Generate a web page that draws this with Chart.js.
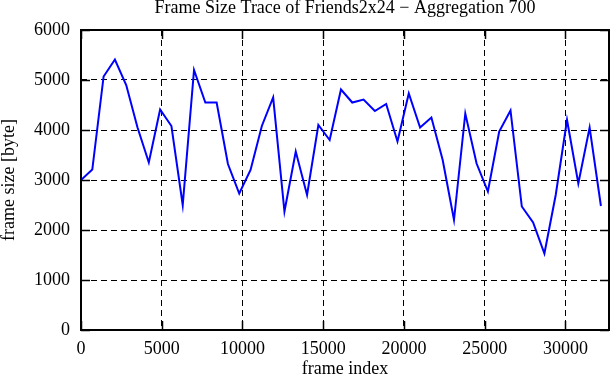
<!DOCTYPE html>
<html>
<head>
<meta charset="utf-8">
<script src="https://cdn.jsdelivr.net/npm/chart.js@4/dist/chart.umd.min.js"></script>
<style>
  body { margin: 0; background: #fff; }
  #wrap { width: 611px; height: 380px; }
</style>
</head>
<body>
<div id="wrap"><canvas id="myChart"></canvas></div>
<script>
// frame index (every 700 frames) and aggregated frame size in byte
const frameIndex = [0, 700, 1400, 2100, 2800, 3500, 4200, 4900, 5600, 6300,
    7000, 7700, 8400, 9100, 9800, 10500, 11200, 11900, 12600, 13300,
    14000, 14700, 15400, 16100, 16800, 17500, 18200, 18900, 19600, 20300,
    21000, 21700, 22400, 23100, 23800, 24500, 25200, 25900, 26600, 27300,
    28000, 28700, 29400, 30100, 30800, 31500, 32200];
const frameSize = [3000, 3210, 5070, 5410, 4900, 4050, 3350, 4410, 4080, 2500,
    5200, 4550, 4550, 3320, 2730, 3200, 4080, 4650, 2370, 3570,
    2700, 4100, 3800, 4810, 4550, 4610, 4380, 4520, 3770, 4730,
    4050, 4250, 3400, 2200, 4330, 3330, 2770, 3970, 4390, 2470,
    2150, 1530, 2700, 4200, 2930, 4050, 2480];
const xTicks = [0, 5000, 10000, 15000, 20000, 25000, 30000];
const yTicks = [0, 1000, 2000, 3000, 4000, 5000, 6000];

const fontFamily = "'Liberation Serif', 'Times New Roman', serif";

// gnuplot style frame: solid border + inward ticks on all four sides
const framePlugin = {
    id: 'frame',
    afterDraw(chart) {
        const ctx = chart.ctx;
        const a = chart.chartArea;
        const xs = chart.scales.x, ys = chart.scales.y;
        ctx.save();
        ctx.strokeStyle = '#000';
        ctx.lineWidth = 1.5;
        ctx.setLineDash([]);
        ctx.beginPath();
        xTicks.forEach(v => {
            const px = Math.round(xs.getPixelForValue(v)) + 0.5;
            ctx.moveTo(px, a.bottom); ctx.lineTo(px, a.bottom - 9);
            ctx.moveTo(px, a.top); ctx.lineTo(px, a.top + 9);
        });
        yTicks.forEach(v => {
            const py = Math.round(ys.getPixelForValue(v)) + 0.5;
            ctx.moveTo(a.left, py); ctx.lineTo(a.left + 9, py);
            ctx.moveTo(a.right, py); ctx.lineTo(a.right - 9, py);
        });
        ctx.stroke();
        ctx.lineWidth = 2;
        ctx.strokeRect(a.left, a.top, a.right - a.left, a.bottom - a.top);
        ctx.restore();
    }
};

let data = {
    datasets: [{
        label: 'frame size',
        data: frameIndex.map((x, i) => ({ x: x, y: frameSize[i] })),
        borderColor: '#0000ff',
        borderWidth: 2,
        pointRadius: 0,
        tension: 0,
        fill: false
    }]
};

let options = {
    responsive: true,
    maintainAspectRatio: false,
    animation: false,
    layout: { padding: { left: 0, right: 2, top: 0, bottom: 0 } },
    plugins: {
        legend: { display: false },
        tooltip: { enabled: false },
        title: {
            display: true,
            fullSize: false,
            text: 'Frame Size Trace of Friends2x24 \u2212 Aggregation 700',
            color: '#000',
            font: { family: fontFamily, size: 18, weight: 'normal', lineHeight: 1 },
            padding: { top: -1, bottom: 13 }
        }
    },
    scales: {
        x: {
            type: 'linear',
            min: 0,
            max: 32700,
            afterFit: s => { s.height = 50; },
            afterBuildTicks: s => { s.ticks = xTicks.map(v => ({ value: v })); },
            ticks: {
                autoSkip: false,
                color: '#000',
                padding: 8,
                maxRotation: 0,
                font: { family: fontFamily, size: 18 },
                callback: v => String(v)
            },
            grid: { color: '#000', lineWidth: 1, drawTicks: false },
            border: { display: false, dash: [6, 4] },
            title: {
                display: true,
                text: 'frame index',
                color: '#000',
                font: { family: fontFamily, size: 18, lineHeight: 1 },
                padding: { top: 0, bottom: 2 }
            }
        },
        y: {
            min: 0,
            max: 6000,
            afterFit: s => { s.width = 81; },
            afterBuildTicks: s => { s.ticks = yTicks.map(v => ({ value: v })); },
            ticks: {
                autoSkip: false,
                color: '#000',
                padding: 11,
                font: { family: fontFamily, size: 18 },
                callback: v => String(v)
            },
            grid: { color: '#000', lineWidth: 1, drawTicks: false },
            border: { display: false, dash: [6, 4] },
            title: {
                display: true,
                text: 'frame size [byte]',
                color: '#000',
                font: { family: fontFamily, size: 18, lineHeight: 1 },
                padding: { top: 0, bottom: 0 }
            }
        }
    }
};

let ctx = document.getElementById('myChart').getContext('2d');
let myLineChart = new Chart(ctx, {
    type: 'line',
    data: data,
    options: options,
    plugins: [framePlugin]
});
</script>
</body>
</html>
